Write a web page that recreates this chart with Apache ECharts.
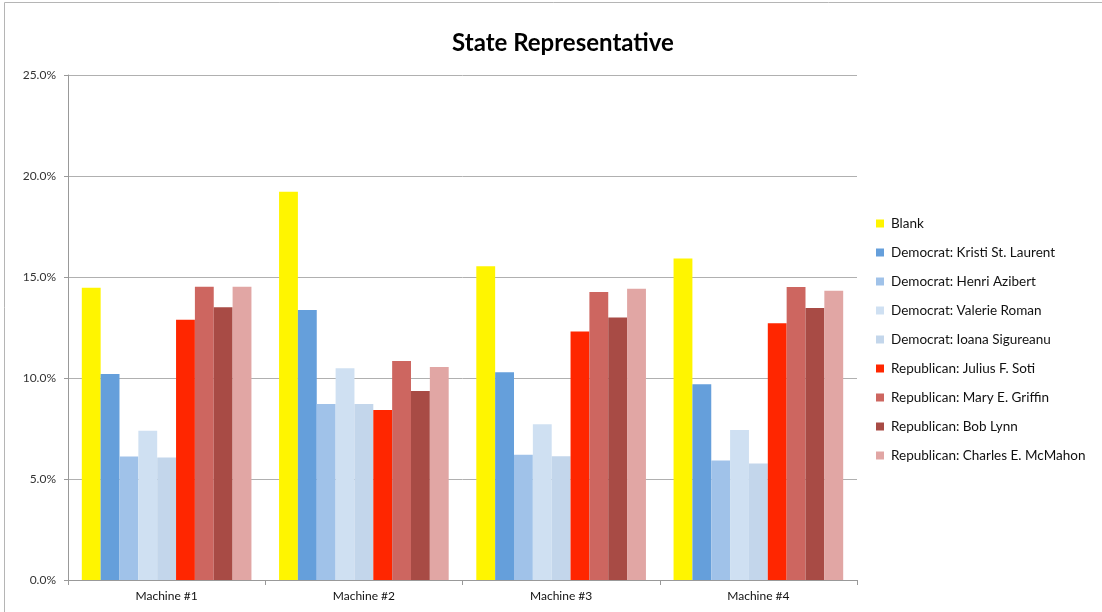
<!DOCTYPE html>
<html><head><meta charset="utf-8">
<script src="https://cdn.jsdelivr.net/npm/echarts@6/dist/echarts.min.js"></script>
<style>html,body{margin:0;padding:0;background:#fff}#c{width:1102px;height:612px}</style>
</head><body><div id="c"></div>
<script>
const categories = ['Machine #1','Machine #2','Machine #3','Machine #4'];
const seriesNames = ['Blank','Democrat: Kristi St. Laurent','Democrat: Henri Azibert','Democrat: Valerie Roman','Democrat: Ioana Sigureanu','Republican: Julius F. Soti','Republican: Mary E. Griffin','Republican: Bob Lynn','Republican: Charles E. McMahon'];
const blank   = [14.47, 19.22, 15.53, 15.92];
const kristi  = [10.20, 13.37, 10.29, 9.69];
const henri   = [6.11, 8.71, 6.20, 5.92];
const valerie = [7.39, 10.48, 7.71, 7.42];
const ioana   = [6.06, 8.71, 6.13, 5.77];
const julius  = [12.88, 8.42, 12.30, 12.71];
const mary    = [14.52, 10.84, 14.26, 14.50];
const bob     = [13.50, 9.36, 12.99, 13.47];
const charles = [14.52, 10.54, 14.42, 14.32];
const yTicks = [0, 5, 10, 15, 20, 25];
const colors = ['#fff500','#659fdb','#a0c2e9','#cfe0f2','#c3d6eb','#ff2600','#cd6660','#a84b45','#e1a6a4'];

const values = [blank, kristi, henri, valerie, ioana, julius, mary, bob, charles];
const font = 'Lato, "Open Sans", sans-serif';
const chart = echarts.init(document.getElementById('c'));
chart.setOption({
  animation: false,
  color: colors,
  title: {
    text: 'State Representative', left: 558, top: 26, textAlign: 'center',
    textStyle: {fontSize: 24, fontWeight: 'bold', color: '#000', fontFamily: font}
  },
  graphic: [{type: 'rect', shape: {x: 4.5, y: 2.5, width: 1120, height: 640}, style: {fill: 'none', stroke: '#b5b5b5', lineWidth: 1}, silent: true}],
  legend: {
    orient: 'vertical', left: 871, top: 211, itemWidth: 8, itemHeight: 8, itemGap: 14,
    icon: 'rect',
    textStyle: {fontSize: 13.5, color: '#111', fontFamily: font, lineHeight: 15, padding: [0,0,0,2]},
    data: seriesNames
  },
  grid: {left: 68, right: 245, top: 75, bottom: 32},
  xAxis: {
    type: 'category', data: categories,
    axisLine: {lineStyle: {color: '#999'}},
    axisTick: {show: true, length: 5, lineStyle: {color: '#999'}},
    axisLabel: {fontSize: 12, color: '#111', fontFamily: font, margin: 10}
  },
  yAxis: {
    type: 'value', min: yTicks[0], max: yTicks[yTicks.length-1], interval: 5,
    axisLine: {show: true, lineStyle: {color: '#999'}},
    axisTick: {show: true, inside: false, length: 4, lineStyle: {color: '#999'}},
    splitLine: {lineStyle: {color: '#b0b0b0', width: 1}},
    axisLabel: {fontSize: 12, color: '#333', fontFamily: font, margin: 12, formatter: v => v.toFixed(1) + '%'}
  },
  series: seriesNames.map((n, i) => ({
    name: n, type: 'bar', data: values[i], barGap: '0%', barCategoryGap: '14%'
  }))
});
</script></body></html>
